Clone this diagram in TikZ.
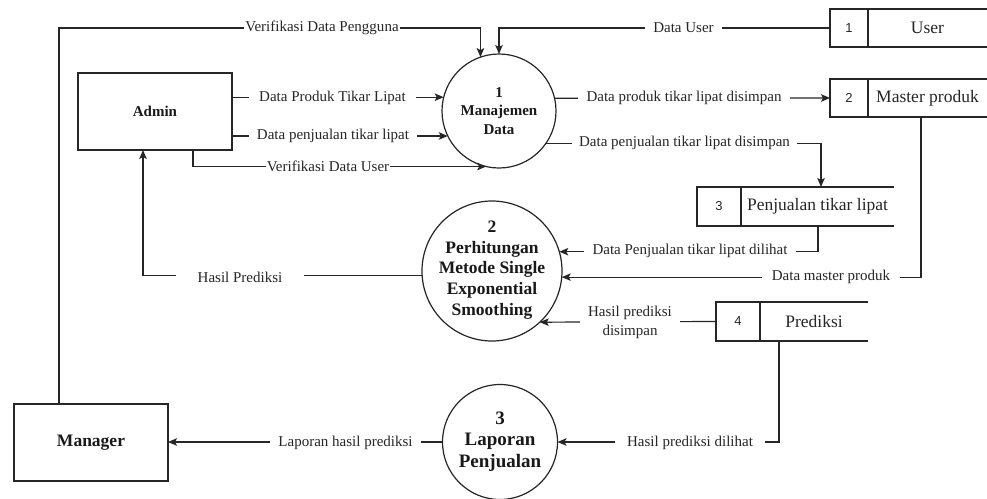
\documentclass[tikz,border=0pt]{standalone}
\usepackage{fontspec}
\setmainfont{Liberation Serif}
\newfontfamily\idfont{Liberation Sans}
\usetikzlibrary{arrows.meta,calc}

\tikzset{
  ink/.style={draw=black!85, line width=1.2pt},
  flow/.style={ink, -{Stealth[length=9pt,width=7.5pt,inset=2pt]}},
  wire/.style={ink},
  entity/.style={ink, rectangle, inner sep=0pt, outer sep=0pt, text=black!90,
    font=\bfseries\fontsize{15}{18}\selectfont},
  process/.style={ink, circle, inner sep=0pt, outer sep=0pt},
  ptext/.style={align=center, inner sep=0pt, text=black!90},
  idcell/.style={ink, rectangle, inner sep=0pt, outer sep=0pt, text=black!85,
    font=\idfont\fontsize{13}{15}\selectfont},
  namecell/.style={rectangle, inner sep=0pt, outer sep=0pt, text=black!85,
    font=\fontsize{17.5}{20}\selectfont},
  elabel/.style={fill=white, inner ysep=2pt, inner xsep=#1, text=black!85,
    font=\fontsize{15}{18}\selectfont},
  elabel/.default=8pt,
}

\begin{document}
\begin{tikzpicture}[x=1pt, y=-1pt]
  \fill[white] (0,0) rectangle (987,498);
  \useasboundingbox (0,0) rectangle (987,498);

  % external entities
  \node[entity, minimum width=154pt, minimum height=77pt] (admin) at (155,111.5) {Admin};
  \node[entity, minimum width=154pt, minimum height=77pt,
        font=\bfseries\fontsize{17.5}{20}\selectfont] (mgr) at (91,442.5) {Manager};

  % processes
  \node[process, minimum size=114pt] (c1) at (499,111) {};
  \node[ptext, font=\bfseries\fontsize{15}{18.5}\selectfont] (c1t) at (499,111)
        {1\\Manajemen\\Data};
  \node[process, minimum size=140pt] (c2) at (492,271) {};
  \node[ptext, font=\bfseries\fontsize{17.5}{20.8}\selectfont] (c2t) at (492,270)
        {2\\Perhitungan\\Metode Single\\Exponential\\Smoothing};
  \node[process, minimum size=115pt] (c3) at (500,442) {};
  \node[ptext, font=\bfseries\fontsize{19}{21.5}\selectfont] (c3t) at (500,441.5)
        {3\\Laporan\\Penjualan};

  % data stores
  \node[idcell, minimum width=38pt, minimum height=38pt] (s1id) at (849,28) {1};
  \node[namecell, minimum width=119pt, minimum height=38pt, anchor=west] (s1n) at (s1id.east) {User};
  \node[idcell, minimum width=38pt, minimum height=38pt] (s2id) at (849,98) {2};
  \node[namecell, minimum width=119pt, minimum height=38pt, anchor=west] (s2n) at (s2id.east) {Master produk};
  \node[idcell, minimum width=44pt, minimum height=39pt] (s3id) at (719,206.5) {3};
  \node[namecell, minimum width=153pt, minimum height=39pt, anchor=west] (s3n) at (s3id.east) {Penjualan tikar lipat};
  \node[idcell, minimum width=44pt, minimum height=39pt] (s4id) at (738,321.5) {4};
  \node[namecell, minimum width=108pt, minimum height=39pt, anchor=west] (s4n) at (s4id.east) {Prediksi};
  \foreach \s in {s1n,s2n,s3n,s4n}
    \draw[wire] (\s.north west) -- (\s.north east) (\s.south west) -- (\s.south east);

  % connector end points on the boxes
  \coordinate (mgrOut) at ($(mgr.north west)+(45,0)$);
  \coordinate (admOut) at ($(admin.south west)+(115,0)$);
  \coordinate (admIn)  at ($(admin.south west)+(65,0)$);
  \coordinate (s2out)  at ($(s2n.south west)+(53,0)$);
  \coordinate (s3in)   at ($(s3n.north west)+(80,0)$);
  \coordinate (s3out)  at ($(s3n.south west)+(77,0)$);
  \coordinate (s4out)  at ($(s4n.south west)+(19,0)$);

  % data flows
  \draw[flow] (mgrOut) -- (mgrOut |- s1id.west) -| (c1.109.5);
  \draw[flow] (s1id.west) -| (c1.north);
  \draw[flow] (admin.east |- c1.166.8) -- (c1.166.8);
  \draw[flow] (admin.east |- c1.206) -- (c1.206);
  \draw[flow] (admOut) |- (c1.257);
  \draw[flow] (c1.13.2) -- (s2id.west);
  \draw[flow] (c1.325.8) -| (s3in);
  \draw[flow] (s3out) |- (c2.16.6);
  \draw[flow] (s2out) |- (c2.355.1);
  \draw[flow] (s4id.west) -- (c2.313.8);
  \draw[flow] (c2.184.9) -| (admIn);
  \draw[flow] (s4out) |- (c3.east);
  \draw[flow] (c3.west) -- (mgr.east |- c3.west);

  % flow labels
  \node[elabel=1pt]  (l1)  at (322,28)    {Verifikasi Data Pengguna};
  \node[elabel]      (l2)  at (683.5,28)  {Data User};
  \node[elabel=10pt] (l3)  at (332.5,98)  {Data Produk Tikar Lipat};
  \node[elabel=8pt]  (l4)  at (333,136)   {Data penjualan tikar lipat};
  \node[elabel=1pt]  (l5)  at (328,166.5) {Verifikasi Data User};
  \node[elabel=9pt]  (l6)  at (684,98)    {Data produk tikar lipat disimpan};
  \node[elabel=7pt]  (l7)  at (684.5,143) {Data penjualan tikar lipat disimpan};
  \node[elabel=9pt]  (l8)  at (690,251)   {Data Penjualan tikar lipat dilihat};
  \node[elabel=10pt] (l9)  at (831,277)   {Data master produk};
  \node[elabel=8pt, align=center, font=\fontsize{15}{19}\selectfont]
                     (l10) at (630,322)   {Hasil prediksi\\disimpan};
  \node[elabel=22pt] (l11) at (240,277)   {Hasil Prediksi};
  \node[elabel=12pt] (l12) at (690,443)   {Hasil prediksi dilihat};
  \node[elabel=8pt]  (l13) at (345.5,443) {Laporan hasil prediksi};
\end{tikzpicture}
\end{document}
